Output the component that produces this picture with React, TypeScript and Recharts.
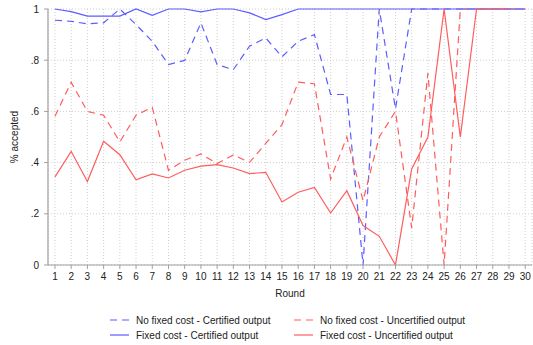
import React from 'react';
import { LineChart, Line, XAxis, YAxis, CartesianGrid } from 'recharts';

// round numbers on the x axis
const rounds = [1, 2, 3, 4, 5, 6, 7, 8, 9, 10, 11, 12, 13, 14, 15, 16, 17, 18, 19, 20, 21, 22, 23, 24, 25, 26, 27, 28, 29, 30];

// share of accepted offers per round
const noFixedCertified = [0.956, 0.952, 0.942, 0.946, 1, 0.939, 0.874, 0.783, 0.799, 0.946, 0.783, 0.763, 0.855, 0.887, 0.813, 0.874, 0.9, 0.666, 0.666, 0, 1, 0.61, 1, 1, 1, 1, 1, 1, 1, 1];
const noFixedUncertified = [0.581, 0.714, 0.6, 0.585, 0.481, 0.585, 0.616, 0.37, 0.409, 0.434, 0.396, 0.43, 0.401, 0.475, 0.548, 0.714, 0.708, 0.336, 0.5, 0.251, 0.5, 0.6, 0.145, 0.75, 0, 1, 1, 1, 1, 1];
const fixedCertified = [1, 0.99, 0.972, 0.972, 0.972, 1, 0.975, 1, 1, 0.989, 1, 1, 0.985, 0.959, 0.978, 1, 1, 1, 1, 1, 1, 1, 1, 1, 1, 1, 1, 1, 1, 1];
const fixedUncertified: (number | null)[] = [0.344, 0.444, 0.326, 0.483, 0.431, 0.333, 0.356, 0.34, 0.37, 0.386, 0.392, 0.379, 0.357, 0.362, 0.246, 0.284, 0.303, 0.203, 0.29, 0.154, 0.112, 0, 0.375, 0.5, 1, 0.5, 1, 1, 1, null];

const yTicks = [0, 0.2, 0.4, 0.6, 0.8, 1];

const BLUE = '#5c5cff';
const RED = '#ff5c5c';
const DASH = '7 5';
const FONT = '"Liberation Sans", Arial, sans-serif';

const series = [
  { key: 'nfc', name: 'No fixed cost - Certified output', color: BLUE, dash: DASH, values: noFixedCertified },
  { key: 'nfu', name: 'No fixed cost - Uncertified output', color: RED, dash: DASH, values: noFixedUncertified },
  { key: 'fc', name: 'Fixed cost - Certified output', color: BLUE, dash: undefined, values: fixedCertified },
  { key: 'fu', name: 'Fixed cost - Uncertified output', color: RED, dash: undefined, values: fixedUncertified },
];

const data = rounds.map((r, i) => {
  const row: Record<string, number | null> = { round: r };
  series.forEach((s) => { row[s.key] = s.values[i]; });
  return row;
});

const fmtY = (v: number) => (v === 0 ? '0' : v === 1 ? '1' : '.' + Math.round(v * 10));

const App: React.FC = () => {
  return (
    <div style={{ position: 'absolute', left: 0, top: 0, width: 533, height: 345, background: '#fff', fontFamily: FONT }}>
      <LineChart width={533} height={345} data={data} margin={{ top: 9, right: 1, left: 0, bottom: 50 }}>
        <CartesianGrid stroke="#cfcfcf" strokeDasharray="1 2" />
        <XAxis
          dataKey="round"
          type="number"
          domain={[0.57, 30.42]}
          ticks={rounds}
          interval={0}
          height={30}
          axisLine={{ stroke: '#a0a0a0', strokeWidth: 1.2 }}
          tickLine={{ stroke: '#a0a0a0' }}
          tickSize={4}
          tickMargin={4}
          tick={{ fill: '#222', fontSize: 10, fontFamily: FONT }}
        />
        <YAxis
          type="number"
          domain={[0, 1]}
          ticks={yTicks}
          width={48}
          tickFormatter={fmtY}
          axisLine={{ stroke: '#a0a0a0', strokeWidth: 1.2 }}
          tickLine={{ stroke: '#a0a0a0' }}
          tickSize={4}
          tickMargin={5}
          tick={{ fill: '#222', fontSize: 10, fontFamily: FONT }}
        />
        {series.map((s) => (
          <Line
            key={s.key}
            dataKey={s.key}
            type="linear"
            stroke={s.color}
            strokeWidth={1.2}
            strokeDasharray={s.dash}
            dot={false}
            activeDot={false}
            isAnimationActive={false}
          />
        ))}
        <text x={290} y={297} textAnchor="middle" fontSize={10} fill="#222" fontFamily={FONT}>Round</text>
        <text x={18} y={137} textAnchor="middle" fontSize={10} fill="#222" fontFamily={FONT} transform="rotate(-90 18 137)">% accepted</text>
        {series.map((s, i) => {
          const col = i % 2;
          const row = Math.floor(i / 2);
          const x0 = col === 0 ? 110 : 294;
          const y = 320 + row * 15;
          return (
            <g key={'lg' + s.key}>
              <line x1={x0} x2={x0 + 19} y1={y} y2={y} stroke={s.color} strokeWidth={1.2} strokeDasharray={s.dash} />
              <text x={x0 + 26} y={y + 3.5} fontSize={10} fill="#222" fontFamily={FONT}>{s.name}</text>
            </g>
          );
        })}
      </LineChart>
    </div>
  );
};

export default App;
